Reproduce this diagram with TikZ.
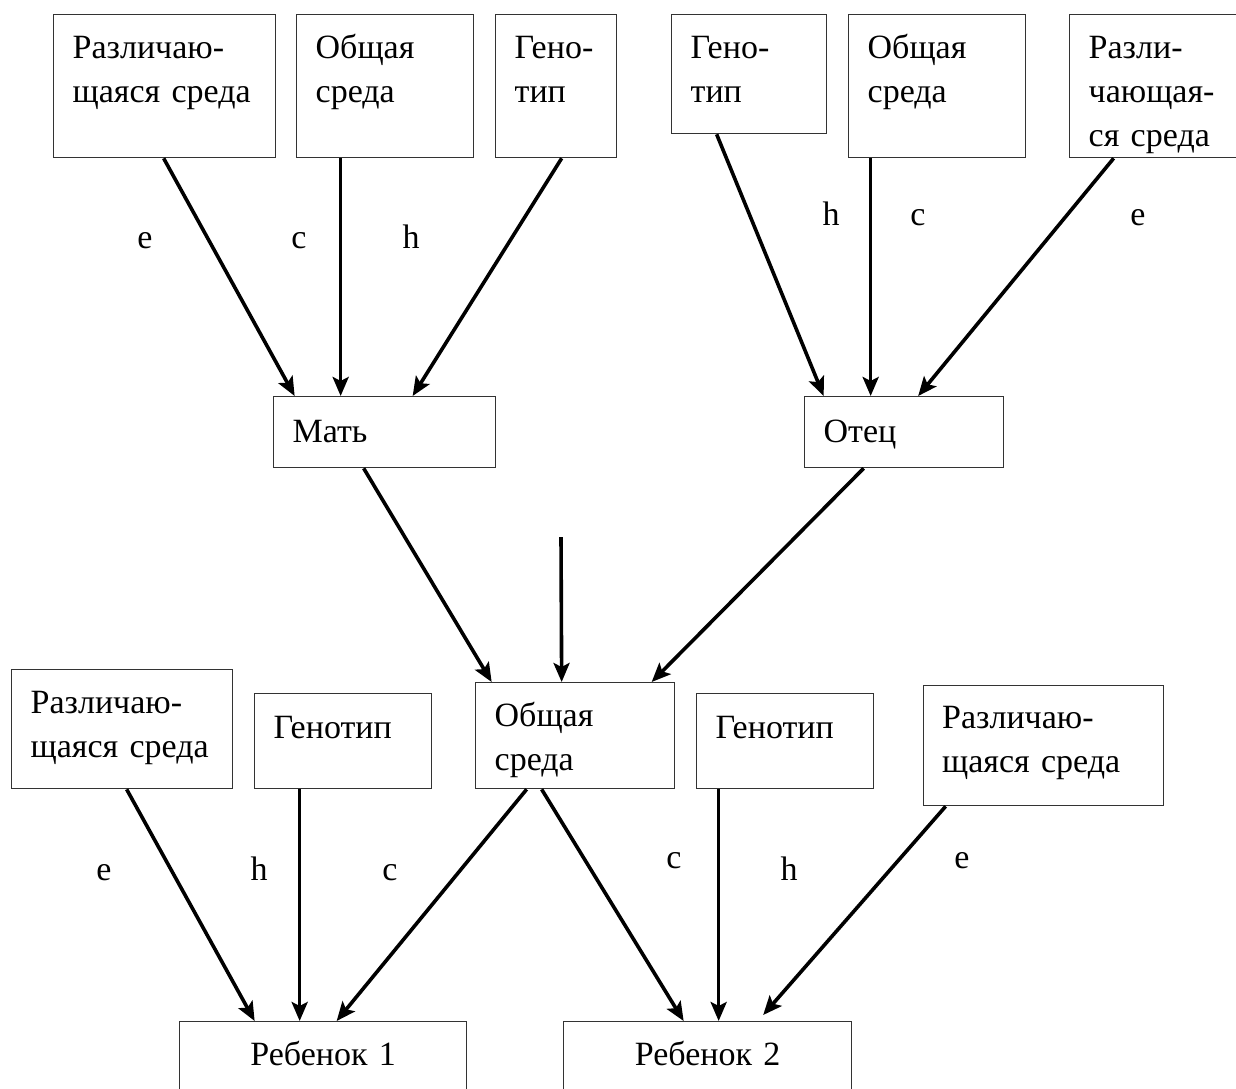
\documentclass[tikz,border=0pt]{standalone}
\usepackage{fontspec}
\setmainfont{Liberation Serif}
\usetikzlibrary{arrows.meta}

\tikzset{
  box/.style={draw=black!80, line width=1.3pt, inner xsep=19pt, inner ysep=0pt,
    align=left, anchor=north west, font=\fontsize{34}{44}\selectfont},
  arr/.style={line width=3.6pt, -{Stealth[length=19pt,width=16pt,inset=4pt]}},
  lbl/.style={anchor=base, font=\fontsize{34}{44}\selectfont}
}

\begin{document}
\begin{tikzpicture}[x=1pt, y=-1pt]
        \path[use as bounding box, clip] (0,0) rectangle (1236,1088);

        % Mother side
        \node[box, text width=184pt, text height=44pt, text depth=99pt] (b1) at (53,14) {Различаю-\\\mbox{щаяся среда}};
        \node[box, text width=139pt, text height=44pt, text depth=99pt] (b2) at (296,14) {Общая\\среда};
        \node[box, text width=83pt, text height=44pt, text depth=99pt] (b3) at (495,14) {Гено-\\тип};
        \node[box, text width=184pt, text height=46pt, text depth=25pt] (mat) at (273,396) {Мать};

        % Father side
        \node[box, text width=117pt, text height=44pt, text depth=75pt] (b4) at (671,14) {Гено-\\тип};
        \node[box, text width=139pt, text height=44pt, text depth=99pt] (b5) at (848,14) {Общая\\среда};
        \node[box, text width=153pt, text height=44pt, text depth=99pt] (b6) at (1069,14) {Разли-\\чающая-\\\mbox{ся среда}};
        \node[box, text width=161pt, text height=46pt, text depth=25pt] (otec) at (804,396) {Отец};

        % Shared environment
        \node[box, text width=161pt, text height=44pt, text depth=62pt] (obs) at (475,682) {Общая\\среда};
        \coordinate (free) at (561,537);

        % Children
        \node[box, text width=183pt, text height=44pt, text depth=75pt] (lb1) at (11,669) {Различаю-\\\mbox{щаяся среда}};
        \node[box, text width=139pt, text height=45pt, text depth=50pt] (lg1) at (254,693) {Генотип};
        \node[box, text width=139pt, text height=45pt, text depth=50pt] (rg) at (696,693) {Генотип};
        \node[box, text width=202pt, text height=43pt, text depth=77pt] (rb) at (922.5,685) {Различаю-\\\mbox{щаяся среда}};
        \node[box, align=center, text width=249pt, text height=44pt, text depth=80pt] (ch1) at (179,1021) {Ребенок 1};
        \node[box, align=center, text width=250pt, text height=44pt, text depth=80pt] (ch2) at (563,1021) {Ребенок 2};

        % Arrows to parents
        \draw[arr] ([xshift=-1pt]b1.south) -- ([xshift=-90pt]mat.north);
        \draw[arr] ([xshift=-44.5pt]b2.south) -- ([xshift=-44pt]mat.north);
        \draw[arr] ([xshift=5.5pt]b3.south) -- ([xshift=28pt]mat.north);
        \draw[arr] ([xshift=-32.5pt]b4.south) -- ([xshift=-80.5pt]otec.north);
        \draw[arr] ([xshift=-66.5pt]b5.south) -- ([xshift=-33.5pt]otec.north);
        \draw[arr] ([xshift=-51.5pt]b6.south) -- ([xshift=14pt]otec.north);

        % Arrows to shared environment
        \draw[arr] ([xshift=-21pt]mat.south) -- ([xshift=-83.5pt]obs.north);
        \draw[arr] (free) -- ([xshift=-13.5pt]obs.north);
        \draw[arr] ([xshift=-40.5pt]otec.south) -- ([xshift=76.5pt]obs.north);

        % Arrows to children
        \draw[arr] ([xshift=4.5pt]lb1.south) -- ([xshift=-68.5pt]ch1.north);
        \draw[arr] ([xshift=-43.5pt]lg1.south) -- ([xshift=-23.5pt]ch1.north);
        \draw[arr] ([xshift=-48.5pt]obs.south) -- ([xshift=13.5pt]ch1.north);
        \draw[arr] ([xshift=-33.5pt]obs.south) -- ([xshift=-24pt]ch2.north);
        \draw[arr] ([xshift=-66.5pt]rg.south) -- ([xshift=11pt]ch2.north);
        \draw[arr] ([xshift=-97.5pt]rb.south) -- ([xshift=55.5pt,yshift=6pt]ch2.north);

        % Path labels
        \node[lbl] (le1) at (145,248) {e};
        \node[lbl] (lc1) at (299,248) {c};
        \node[lbl] (lh1) at (411,248) {h};
        \node[lbl] (lh2) at (831,225) {h};
        \node[lbl] (lc2) at (918,225) {c};
        \node[lbl] (le2) at (1138,225) {e};
        \node[lbl] (le3) at (104,880) {e};
        \node[lbl] (lh3) at (259,880) {h};
        \node[lbl] (lc3) at (390,880) {c};
        \node[lbl] (lc4) at (674,868) {c};
        \node[lbl] (lh4) at (789,880) {h};
        \node[lbl] (le4) at (962,868) {e};

    \end{tikzpicture}
\end{document}
